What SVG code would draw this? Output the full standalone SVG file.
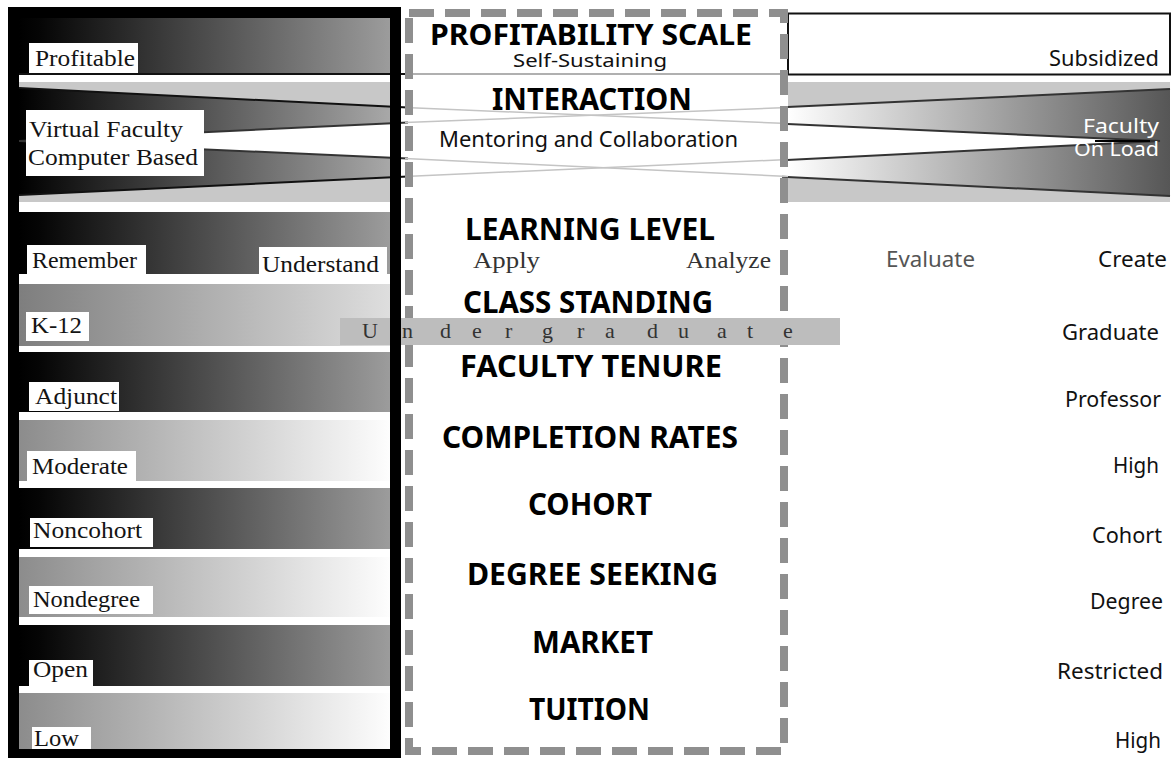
<svg xmlns="http://www.w3.org/2000/svg" width="1173" height="758" viewBox="0 0 1173 758">
<defs>
  <linearGradient id="gDark" x1="0" y1="0" x2="1" y2="0">
    <stop offset="0" stop-color="#000"/>
    <stop offset="0.06" stop-color="#060606"/>
    <stop offset="1" stop-color="#9c9c9c"/>
  </linearGradient>
  <linearGradient id="gLight" x1="0" y1="0" x2="1" y2="0">
    <stop offset="0" stop-color="#8c8c8c"/>
    <stop offset="1" stop-color="#fdfdfd"/>
  </linearGradient>
  <linearGradient id="gK12" x1="0" y1="0" x2="1" y2="0">
    <stop offset="0" stop-color="#7e7e7e"/>
    <stop offset="1" stop-color="#dedede"/>
  </linearGradient>
  <linearGradient id="gWedgeL" x1="0" y1="0" x2="1" y2="0">
    <stop offset="0" stop-color="#000"/>
    <stop offset="1" stop-color="#a8a8a8"/>
  </linearGradient>
  <linearGradient id="gWedgeR" x1="0" y1="0" x2="1" y2="0">
    <stop offset="0" stop-color="#fff"/>
    <stop offset="1" stop-color="#565656"/>
  </linearGradient>
</defs>
<style>
  .sv{font-family:"Liberation Serif","Times New Roman",serif;font-size:24px;fill:#141414}
  .sv2{font-family:"Liberation Serif","Times New Roman",serif;font-size:23px;fill:#333}
  .ug{font-family:"Liberation Serif","Times New Roman",serif;font-size:22px;fill:#333}
  .hd{font-family:"Noto Sans","DejaVu Sans",sans-serif;font-weight:bold;font-size:30px;fill:#000}
  .hd28{font-family:"Noto Sans","DejaVu Sans",sans-serif;font-weight:bold;font-size:28px;fill:#000}
  .sn{font-family:"Noto Sans","DejaVu Sans",sans-serif;font-size:21.5px;fill:#111}
  .sn18{font-family:"Noto Sans","DejaVu Sans",sans-serif;font-size:18.5px;fill:#111}
  .snw{font-family:"Noto Sans","DejaVu Sans",sans-serif;font-size:20.5px;fill:#fff}
  .sng{font-family:"Noto Sans","DejaVu Sans",sans-serif;font-size:21.5px;fill:#555}
  .lb{fill:#fff}
  .dash{fill:none;stroke:#8f8f8f;stroke-width:8;stroke-dasharray:25 11}
  .faint{stroke:#c4c4c4;stroke-width:1.5;fill:none}
  .edge{stroke:#111;stroke-width:2;fill:none}
  .edge2{stroke:#333;stroke-width:2;fill:none}
  .dark{fill:url(#gDark)}
  .light{fill:url(#gLight)}
</style>

<rect x="0" y="0" width="1173" height="758" fill="#fff"/>

<!-- left column bands -->
<g id="left-bands">
  <rect x="19" y="18" width="371" height="731" fill="#fff"/>
  <rect class="dark" x="19" y="18" width="371" height="55"/>
  <rect x="19" y="82" width="371" height="120" fill="#c8c8c8"/>
  <polygon fill="url(#gWedgeL)" points="19,88 390,107 390,177 19,195"/>
  <polygon fill="#fff" points="19,141 390,123 390,158"/>
  <rect class="dark" x="19" y="212" width="371" height="62"/>
  <rect fill="url(#gK12)" x="19" y="284" width="371" height="62"/>
  <rect class="dark" x="19" y="352" width="371" height="60"/>
  <rect class="light" x="19" y="420" width="371" height="61"/>
  <rect class="dark" x="19" y="488" width="371" height="61"/>
  <rect class="light" x="19" y="557" width="371" height="60"/>
  <rect class="dark" x="19" y="625" width="371" height="61"/>
  <rect class="light" x="19" y="693" width="371" height="56"/>
  <line class="edge" x1="19" y1="88" x2="408" y2="107.5"/>
  <line class="edge2" x1="19" y1="141" x2="408" y2="122.5"/>
  <line class="edge2" x1="19" y1="141" x2="408" y2="158.5"/>
  <line class="edge" x1="19" y1="195" x2="408" y2="176.5"/>
  <line x1="19" y1="74" x2="409" y2="74" stroke="#111" stroke-width="2"/>
</g>

<!-- right column -->
<g id="right-bands">
  <rect x="788" y="13.5" width="382" height="61" fill="#fff" stroke="#111" stroke-width="2"/>
  <rect x="788" y="82" width="382" height="120" fill="#c8c8c8"/>
  <polygon fill="url(#gWedgeR)" points="788,107 1170,89 1170,196 788,177"/>
  <polygon fill="#fff" points="788,124 1160,141 788,160"/>
  <line class="edge2" x1="782" y1="107.3" x2="1170" y2="89"/>
  <line class="edge2" x1="782" y1="123.7" x2="1160" y2="141"/>
  <line class="edge2" x1="782" y1="160.3" x2="1160" y2="141"/>
  <line class="edge2" x1="782" y1="176.7" x2="1170" y2="196"/>
  <line x1="1095" y1="141" x2="1150" y2="141" stroke="#000" stroke-width="2"/>
</g>

<!-- middle column -->
<rect x="413" y="17" width="367" height="730" fill="#fff"/>
<g id="connectors">
  <line x1="409" y1="74" x2="788" y2="74" stroke="#b0b0b0" stroke-width="2"/>
  <line class="faint" x1="405" y1="107.5" x2="788" y2="123.5"/>
  <line class="faint" x1="405" y1="122.5" x2="788" y2="107.5"/>
  <line class="faint" x1="405" y1="158.5" x2="788" y2="176.5"/>
  <line class="faint" x1="405" y1="176.5" x2="788" y2="159.5"/>
</g>
<rect class="dash" x="409" y="13" width="375" height="738"/>

<!-- undergraduate band -->
<rect x="340" y="318" width="500" height="27" fill="#bdbdbd"/>

<!-- black frame -->
<rect x="13.5" y="12.5" width="382" height="742" fill="none" stroke="#000" stroke-width="11"/>

<!-- left labels -->
<g id="n-profitable"><rect class="lb" x="29" y="43" width="109" height="30"/><text class="sv" x="35" y="66" textLength="100" lengthAdjust="spacingAndGlyphs">Profitable</text></g>
<g id="n-virtual"><rect class="lb" x="26" y="110" width="178" height="66"/><text class="sv" x="29" y="137" textLength="154" lengthAdjust="spacingAndGlyphs">Virtual Faculty</text><text class="sv" x="28" y="165" textLength="170" lengthAdjust="spacingAndGlyphs">Computer Based</text></g>
<g id="n-remember"><rect class="lb" x="27" y="245" width="119" height="29"/><text class="sv" x="32" y="268" textLength="105" lengthAdjust="spacingAndGlyphs">Remember</text></g>
<g id="n-understand"><rect class="lb" x="259" y="247" width="128" height="27"/><text class="sv" x="262" y="272" textLength="117" lengthAdjust="spacingAndGlyphs">Understand</text></g>
<g id="n-k12"><rect class="lb" x="26" y="312" width="63" height="29"/><text class="sv" x="31" y="333" textLength="51" lengthAdjust="spacingAndGlyphs">K-12</text></g>
<g id="n-adjunct"><rect class="lb" x="29" y="382" width="90" height="29"/><text class="sv" x="35" y="404" textLength="82" lengthAdjust="spacingAndGlyphs">Adjunct</text></g>
<g id="n-moderate"><rect class="lb" x="27" y="451" width="109" height="30"/><text class="sv" x="32" y="474" textLength="96" lengthAdjust="spacingAndGlyphs">Moderate</text></g>
<g id="n-noncohort"><rect class="lb" x="30" y="518" width="123" height="29"/><text class="sv" x="33" y="538" textLength="109" lengthAdjust="spacingAndGlyphs">Noncohort</text></g>
<g id="n-nondegree"><rect class="lb" x="29" y="586" width="124" height="28"/><text class="sv" x="33" y="607" textLength="107" lengthAdjust="spacingAndGlyphs">Nondegree</text></g>
<g id="n-open"><rect class="lb" x="29" y="660" width="64" height="26"/><text class="sv" x="33" y="677" textLength="55" lengthAdjust="spacingAndGlyphs">Open</text></g>
<g id="n-low"><rect class="lb" x="32" y="727" width="59" height="22"/><text class="sv" x="34" y="746" textLength="45" lengthAdjust="spacingAndGlyphs">Low</text></g>

<!-- middle headings -->
<g id="n-profitability"><text class="hd28" x="430" y="45" textLength="322" lengthAdjust="spacingAndGlyphs">PROFITABILITY SCALE</text><text class="sn18" x="513" y="67" textLength="154" lengthAdjust="spacingAndGlyphs">Self-Sustaining</text></g>
<g id="n-interaction"><text class="hd" x="492" y="110" textLength="200" lengthAdjust="spacingAndGlyphs">INTERACTION</text><text class="sn" x="439" y="147" textLength="299" lengthAdjust="spacingAndGlyphs">Mentoring and Collaboration</text></g>
<g id="n-learning"><text class="hd" x="465" y="240" textLength="250" lengthAdjust="spacingAndGlyphs">LEARNING LEVEL</text><text class="sv2" x="473" y="268" textLength="67" lengthAdjust="spacingAndGlyphs">Apply</text><text class="sv2" x="686" y="268" textLength="85" lengthAdjust="spacingAndGlyphs">Analyze</text></g>
<g id="n-class"><text class="hd" x="463" y="313" textLength="250" lengthAdjust="spacingAndGlyphs">CLASS STANDING</text><text class="ug" y="338" x="362 402 440 472 505 542 577 605 647 678 717 747 783">Undergraduate</text></g>
<g id="n-tenure"><text class="hd" x="460" y="377" textLength="262" lengthAdjust="spacingAndGlyphs">FACULTY TENURE</text></g>
<g id="n-completion"><text class="hd" x="442" y="448" textLength="296" lengthAdjust="spacingAndGlyphs">COMPLETION RATES</text></g>
<g id="n-cohort"><text class="hd" x="528" y="515" textLength="124" lengthAdjust="spacingAndGlyphs">COHORT</text></g>
<g id="n-degree"><text class="hd" x="467" y="585" textLength="251" lengthAdjust="spacingAndGlyphs">DEGREE SEEKING</text></g>
<g id="n-market"><text class="hd" x="532" y="653" textLength="121" lengthAdjust="spacingAndGlyphs">MARKET</text></g>
<g id="n-tuition"><text class="hd" x="529" y="720" textLength="121" lengthAdjust="spacingAndGlyphs">TUITION</text></g>

<!-- right labels -->
<g id="n-subsidized"><text class="sn" x="1049" y="66" textLength="110" lengthAdjust="spacingAndGlyphs">Subsidized</text></g>
<g id="n-faculty"><text class="snw" x="1083" y="133" textLength="76" lengthAdjust="spacingAndGlyphs">Faculty</text><text class="snw" x="1074" y="156" textLength="85" lengthAdjust="spacingAndGlyphs">On Load</text></g>
<g id="n-evaluate"><text class="sng" x="886" y="267" textLength="89" lengthAdjust="spacingAndGlyphs">Evaluate</text></g>
<g id="n-create"><text class="sn" x="1098" y="267" textLength="69" lengthAdjust="spacingAndGlyphs">Create</text></g>
<g id="n-graduate"><text class="sn" x="1062" y="340" textLength="97" lengthAdjust="spacingAndGlyphs">Graduate</text></g>
<g id="n-professor"><text class="sn" x="1065" y="407" textLength="96" lengthAdjust="spacingAndGlyphs">Professor</text></g>
<g id="n-high1"><text class="sn" x="1113" y="473" textLength="46" lengthAdjust="spacingAndGlyphs">High</text></g>
<g id="n-cohort-r"><text class="sn" x="1092" y="543" textLength="70" lengthAdjust="spacingAndGlyphs">Cohort</text></g>
<g id="n-degree-r"><text class="sn" x="1090" y="609" textLength="73" lengthAdjust="spacingAndGlyphs">Degree</text></g>
<g id="n-restricted"><text class="sn" x="1057" y="679" textLength="106" lengthAdjust="spacingAndGlyphs">Restricted</text></g>
<g id="n-high2"><text class="sn" x="1115" y="748" textLength="46" lengthAdjust="spacingAndGlyphs">High</text></g>
</svg>
